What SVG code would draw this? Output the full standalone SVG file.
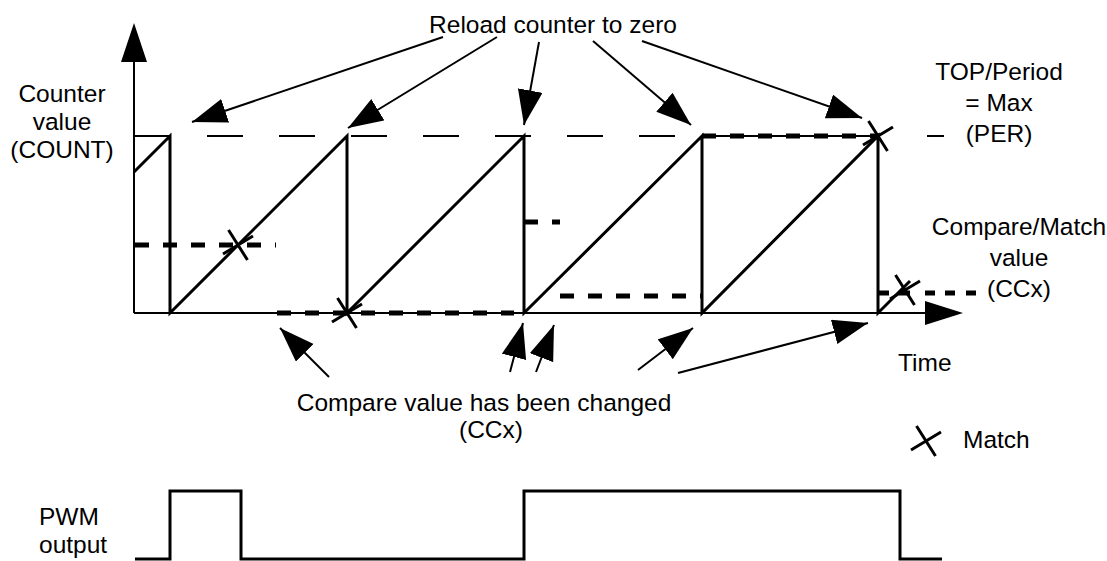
<svg xmlns="http://www.w3.org/2000/svg" xmlns:xlink="http://www.w3.org/1999/xlink" width="1107" height="561" viewBox="0 0 1107 561">
<style>
text{font-family:"Liberation Sans",Arial,sans-serif;font-size:24.5px;fill:#000}
.c{text-anchor:middle}
.thin{fill:none;stroke:#000;stroke-width:2}
.wave{fill:none;stroke:#000;stroke-width:3;stroke-linejoin:miter}
.cc{fill:none;stroke:#000;stroke-width:5;stroke-dasharray:14 14}
.cc2{fill:none;stroke:#000;stroke-width:5}
.per{fill:none;stroke:#000;stroke-width:2;stroke-dasharray:36 36}
.arr{fill:none;stroke:#000;stroke-width:2;marker-end:url(#ah)}
.mx{fill:none;stroke:#000;stroke-width:3}
</style>
<defs>
<marker id="ah" markerUnits="userSpaceOnUse" markerWidth="36" markerHeight="26" refX="35" refY="12.5" orient="auto">
<path d="M0,0 L35,12.5 L0,25 z" fill="#000"/>
</marker>
<path id="x" class="mx" d="M-15,9 L15,-9 M-9.5,-15 L9.5,15"/>
</defs>

<g id="axes">
<line class="thin" x1="134" y1="313" x2="134" y2="55"/>
<path d="M134,23 L121,62 L147,62 z" fill="#000"/>
<line class="thin" x1="134" y1="313" x2="930" y2="313"/>
<path d="M963,313 L925,301 L925,325 z" fill="#000"/>
</g>

<g id="per-line">
<line class="thin" x1="134" y1="136" x2="170" y2="136"/>
<line class="per" x1="207" y1="136" x2="676" y2="136"/>
<line class="thin" x1="702" y1="136" x2="878" y2="136"/>
<line class="thin" x1="927" y1="136" x2="944" y2="136"/>
</g>

<g id="counter">
<path class="wave" d="M134,172 L170,136 L170,313 L347,136 L347,313 L524,136 L524,313 L702,136 L702,313 L878,136 L878,313 L910,281"/>
</g>

<g id="compare">
<line class="cc" x1="135" y1="245" x2="276" y2="245"/>
<line class="cc" x1="277" y1="313" x2="514" y2="313"/>
<line class="cc" x1="524" y1="222" x2="560" y2="222"/>
<line class="cc" x1="560" y1="296" x2="702" y2="296"/>
<line class="cc" x1="702" y1="136" x2="880" y2="136"/>
<path class="cc2" d="M878,293 H889 M899,293 H910 M925,293 H935 M945,293 H955 M966,293 H976"/>
</g>

<g id="matches">
<use xlink:href="#x" href="#x" x="238" y="245"/>
<use xlink:href="#x" href="#x" x="347" y="313"/>
<use xlink:href="#x" href="#x" x="878" y="136"/>
<use xlink:href="#x" href="#x" x="905" y="290"/>
</g>

<g id="connectors">
<line class="arr" x1="443" y1="37" x2="192" y2="122"/>
<line class="arr" x1="497" y1="37" x2="348" y2="128"/>
<line class="arr" x1="539" y1="42" x2="524" y2="125"/>
<line class="arr" x1="593" y1="41" x2="691" y2="125"/>
<line class="arr" x1="642" y1="41" x2="862" y2="118"/>
<line class="arr" x1="329" y1="377" x2="280" y2="328"/>
<line class="arr" x1="510" y1="372" x2="523" y2="323"/>
<line class="arr" x1="536" y1="372" x2="554" y2="325"/>
<line class="arr" x1="638" y1="370" x2="693" y2="328"/>
<line class="arr" x1="678" y1="373" x2="868" y2="323"/>
</g>

<g id="labels">
<text class="c" x="553" y="33">Reload counter to zero</text>
<text class="c" x="62" y="102">Counter</text>
<text class="c" x="62" y="130">value</text>
<text class="c" x="62" y="158">(COUNT)</text>
<text class="c" x="999" y="80">TOP/Period</text>
<text class="c" x="999" y="111">= Max</text>
<text class="c" x="999" y="142">(PER)</text>
<text class="c" x="1019" y="235">Compare/Match</text>
<text class="c" x="1019" y="266">value</text>
<text class="c" x="1019" y="297">(CCx)</text>
<text x="898" y="371">Time</text>
<text class="c" x="484" y="411">Compare value has been changed</text>
<text class="c" x="491" y="438">(CCx)</text>
</g>

<g id="legend">
<use xlink:href="#x" href="#x" x="926" y="441"/>
<text x="963" y="448">Match</text>
</g>

<g id="pwm">
<path class="wave" d="M135,559 H170 V491 H241 V559 H524 V491 H900 V559 H942"/>
<text x="39" y="525">PWM</text>
<text x="39" y="553">output</text>
</g>
</svg>
